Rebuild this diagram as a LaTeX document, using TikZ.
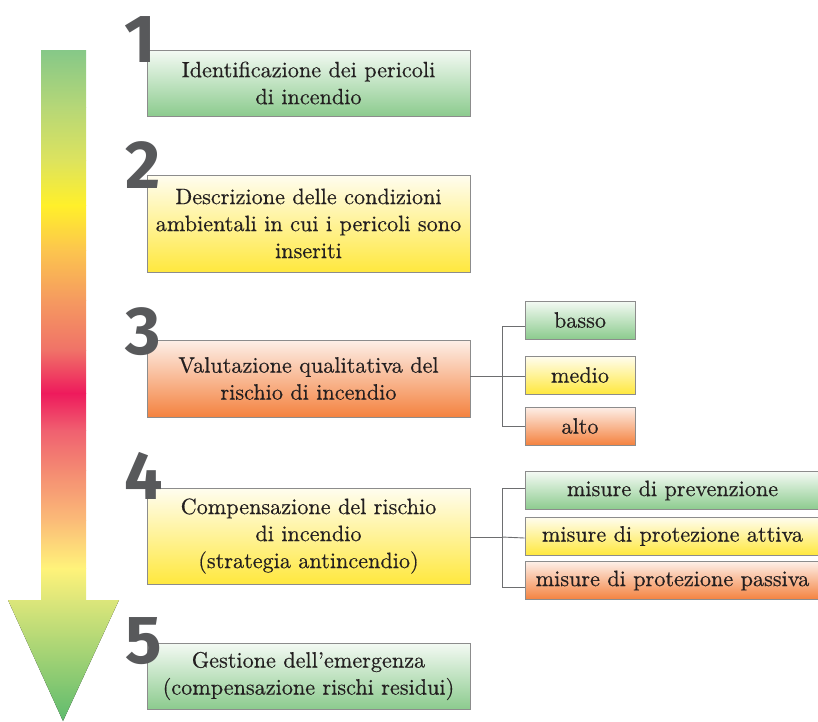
\documentclass[tikz,border=0pt]{standalone}
\usepackage{fontspec}
\newfontfamily\digitfont{Fira Sans}
\newfontfamily\boxfont[FakeBold=0.4]{lmroman10-regular.otf}
\usetikzlibrary{calc}
\definecolor{boxline}{HTML}{8C8C8C}
\definecolor{conn}{HTML}{6D6E70}
\definecolor{txt}{HTML}{231F20}
\definecolor{numc}{HTML}{58595B}
\definecolor{gtop}{HTML}{F4FAF4}
\definecolor{gbot}{HTML}{8CCB8E}
\definecolor{ytop}{HTML}{FFFDF0}
\definecolor{ybot}{HTML}{FFE83E}
\definecolor{otop}{HTML}{FDEFE8}
\definecolor{obot}{HTML}{F4823F}
\definecolor{s1}{HTML}{86C888}
\definecolor{s2}{HTML}{B6D777}
\definecolor{s3}{HTML}{DDE35E}
\definecolor{s4}{HTML}{FFF02A}
\definecolor{s5}{HTML}{FCC54E}
\definecolor{s6}{HTML}{F59A60}
\definecolor{s7}{HTML}{F07268}
\definecolor{s8}{HTML}{EE1A5C}
\definecolor{s9}{HTML}{F06070}
\definecolor{s10}{HTML}{F48A72}
\definecolor{s11}{HTML}{FBBB78}
\definecolor{s12}{HTML}{FFF37A}
\definecolor{s13}{HTML}{DDE67A}
\definecolor{h1}{HTML}{DCE67A}
\definecolor{h2}{HTML}{A5D57E}
\definecolor{h3}{HTML}{5EBB6E}
\tikzset{
  box/.style={draw=boxline, line width=0.8pt, inner sep=0pt, align=center,
    text width=320pt, minimum width=323pt, font=\boxfont\fontsize{22.2}{27}\selectfont, text=txt},
  gbox/.style={box, top color=gtop, bottom color=gbot},
  ybox/.style={box, top color=ytop, bottom color=ybot},
  obox/.style={box, top color=otop, bottom color=obot},
  sidebox/.style={text width=108pt, minimum width=110pt, minimum height=38pt},
  widebox/.style={text width=293pt, minimum width=295pt, minimum height=38pt},
  num/.style={font=\digitfont\bfseries\fontsize{68}{68}\selectfont, text=numc, inner sep=0pt, anchor=base west},
  link/.style={draw=conn, line width=0.9pt}
}
\begin{document}
\begin{tikzpicture}[x=1pt, y=-1pt]
\useasboundingbox (0,0) rectangle (818,721);
\clip (0,0) rectangle (818,721);
% gradient arrow shaft
\foreach \ya/\ca/\yb/\cb in {50/s1/107/s2, 107/s2/160/s3, 160/s3/205/s4, 205/s4/250/s5, 250/s5/300/s6, 300/s6/350/s7, 350/s7/393/s8, 393/s8/430/s9, 430/s9/470/s10, 470/s10/520/s11, 520/s11/568/s12, 568/s12/600/s13}
  \fill[top color=\ca, bottom color=\cb] (41,\ya) rectangle (86,{\yb+0.6});
% arrow head
\fill[top color=h1, middle color=h2, bottom color=h3] (8,600) -- (119,600) -- (63,721) -- cycle;

% main boxes
\node[gbox, minimum height=66pt] (b1) at (308.5,83) {Identificazione dei pericoli\\di incendio};
\node[ybox, minimum height=97pt] (b2) at (308.5,223.5) {Descrizione delle condizioni\\ambientali in cui i pericoli sono\\inseriti};
\node[obox, minimum height=77pt] (b3) at (308.5,378.5) {Valutazione qualitativa del\\rischio di incendio};
\node[ybox, minimum height=96pt] (b4) at (308.5,536) {Compensazione del rischio\\di incendio\\(strategia antincendio)};
\node[gbox, minimum height=66pt] (b5) at (308.5,676) {Gestione dell’emergenza\\(compensazione rischi residui)};

% numbers
\node[num] (n1) at (124,62) {1};
\node[num] (n2) at (125,188) {2};
\node[num] (n3) at (125,354) {3};
\node[num] (n4) at (124,499) {4};
\node[num] (n5) at (125,663) {5};

% risk level boxes
\node[gbox, sidebox] (basso) at (580,320) {basso};
\node[ybox, sidebox] (medio) at (580,375) {medio};
\node[obox, sidebox] (alto) at (580,426) {alto};

% measures boxes
\node[gbox, widebox] (prev) at (672.5,490.5) {misure di prevenzione};
\node[ybox, widebox] (att) at (672.5,536) {misure di protezione attiva};
\node[obox, widebox] (pas) at (672.5,580.5) {misure di protezione passiva};

% connectors for box 3
\coordinate (j3) at (502,376);
\draw[link] ([yshift=2.5pt]b3.east) -- (j3);
\draw[link] ([yshift=-6pt]basso.west) -| (j3);
\draw[link] ([yshift=-1pt]medio.west) -- (j3);
\draw[link] (alto.west) -| (j3);

% connectors for box 4
\coordinate (j4) at (502,537);
\draw[link] ([yshift=-1pt]b4.east) -- (j4);
\draw[link] ([yshift=2.5pt]prev.west) -| (j4);
\draw[link] ([yshift=-2pt]att.west) -- (j4);
\draw[link] ([yshift=-6.5pt]pas.west) -| (j4);
\end{tikzpicture}
\end{document}
